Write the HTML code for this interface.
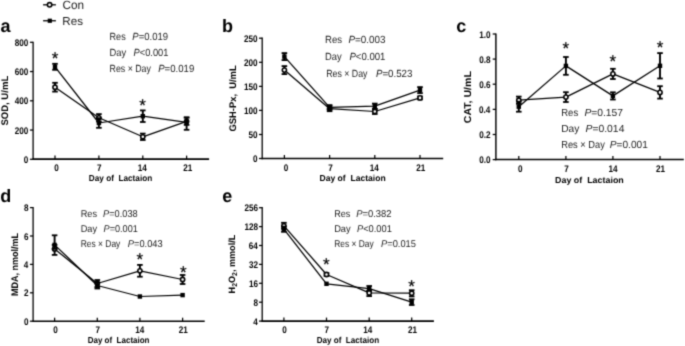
<!DOCTYPE html>
<html><head><meta charset="utf-8"><style>
html,body{margin:0;padding:0;background:#fff;}
svg{display:block;font-family:"Liberation Sans", sans-serif;will-change:transform;text-rendering:geometricPrecision;}
text{stroke:#000;stroke-width:0px;}
.thin{stroke:#000;stroke-width:0px;}
.ast{stroke:#000;stroke-width:0.2px;}
</style></head><body>
<svg width="685" height="346" viewBox="0 0 685 346">
<defs><filter id="bl" x="0" y="0" width="685" height="346" filterUnits="userSpaceOnUse" color-interpolation-filters="sRGB"><feConvolveMatrix order="3" kernelMatrix="1 4 1 4 16 4 1 4 1" divisor="36.0" edgeMode="duplicate"/></filter></defs>
<g filter="url(#bl)">
<rect width="685" height="346" fill="#fff"/>
<line x1="33.10" y1="41.70" x2="33.10" y2="159.88" stroke="#000" stroke-width="1.3"/>
<line x1="32.45" y1="159.10" x2="209.10" y2="159.10" stroke="#000" stroke-width="1.55"/>
<line x1="29.90" y1="42.30" x2="33.10" y2="42.30" stroke="#000" stroke-width="1.25"/>
<text transform="translate(14.72,45.91) scale(0.8500,1)" font-size="9.6" font-weight="bold" fill="#000">800</text>
<line x1="29.90" y1="71.55" x2="33.10" y2="71.55" stroke="#000" stroke-width="1.25"/>
<text transform="translate(14.72,75.16) scale(0.8500,1)" font-size="9.6" font-weight="bold" fill="#000">600</text>
<line x1="29.90" y1="100.80" x2="33.10" y2="100.80" stroke="#000" stroke-width="1.25"/>
<text transform="translate(14.72,104.41) scale(0.8500,1)" font-size="9.6" font-weight="bold" fill="#000">400</text>
<line x1="29.90" y1="130.05" x2="33.10" y2="130.05" stroke="#000" stroke-width="1.25"/>
<text transform="translate(14.72,133.66) scale(0.8500,1)" font-size="9.6" font-weight="bold" fill="#000">200</text>
<line x1="29.90" y1="159.30" x2="33.10" y2="159.30" stroke="#000" stroke-width="1.25"/>
<text transform="translate(23.80,162.91) scale(0.8500,1)" font-size="9.6" font-weight="bold" fill="#000">0</text>
<line x1="55.00" y1="155.60" x2="55.00" y2="159.10" stroke="#000" stroke-width="1.25"/>
<text transform="translate(54.14,171.00) scale(0.8500,1)" font-size="9.6" font-weight="bold" fill="#000">0</text>
<line x1="98.90" y1="155.60" x2="98.90" y2="159.10" stroke="#000" stroke-width="1.25"/>
<text transform="translate(96.93,171.00) scale(0.8500,1)" font-size="9.6" font-weight="bold" fill="#000">7</text>
<line x1="142.80" y1="155.60" x2="142.80" y2="159.10" stroke="#000" stroke-width="1.25"/>
<text transform="translate(137.83,171.00) scale(0.8500,1)" font-size="9.6" font-weight="bold" fill="#000">14</text>
<line x1="186.60" y1="155.60" x2="186.60" y2="159.10" stroke="#000" stroke-width="1.25"/>
<text transform="translate(183.13,171.00) scale(0.8500,1)" font-size="9.6" font-weight="bold" fill="#000">21</text>
<text transform="translate(88.85,180.90) scale(0.9444,1)" font-size="8.7" font-weight="bold" fill="#000">Day of&#160;&#160;Lactaion</text>
<text class="thin" transform="translate(7.90,100.70) rotate(-90)" font-size="9.6" font-weight="bold" text-anchor="middle" fill="#000" textLength="49.80" lengthAdjust="spacingAndGlyphs">SOD, U/mL</text>
<text x="0.60" y="31.50" font-size="18" font-weight="bold" fill="#000">a</text>
<path d="M55.00 87.20 L98.90 117.80 L142.80 136.80 L186.60 121.30" fill="none" stroke="#000" stroke-width="1.25" stroke-linejoin="round"/>
<line x1="55.00" y1="82.80" x2="55.00" y2="87.20" stroke="#000" stroke-width="1.9"/>
<line x1="52.20" y1="82.80" x2="57.80" y2="82.80" stroke="#000" stroke-width="1.8"/>
<line x1="55.00" y1="87.20" x2="55.00" y2="91.60" stroke="#000" stroke-width="1.9"/>
<line x1="52.20" y1="91.60" x2="57.80" y2="91.60" stroke="#000" stroke-width="1.8"/>
<line x1="98.90" y1="114.10" x2="98.90" y2="117.80" stroke="#000" stroke-width="1.9"/>
<line x1="96.10" y1="114.10" x2="101.70" y2="114.10" stroke="#000" stroke-width="1.8"/>
<line x1="98.90" y1="117.80" x2="98.90" y2="121.50" stroke="#000" stroke-width="1.9"/>
<line x1="96.10" y1="121.50" x2="101.70" y2="121.50" stroke="#000" stroke-width="1.8"/>
<line x1="142.80" y1="133.60" x2="142.80" y2="136.80" stroke="#000" stroke-width="1.9"/>
<line x1="140.00" y1="133.60" x2="145.60" y2="133.60" stroke="#000" stroke-width="1.8"/>
<line x1="142.80" y1="136.80" x2="142.80" y2="140.00" stroke="#000" stroke-width="1.9"/>
<line x1="140.00" y1="140.00" x2="145.60" y2="140.00" stroke="#000" stroke-width="1.8"/>
<line x1="186.60" y1="117.70" x2="186.60" y2="121.30" stroke="#000" stroke-width="1.9"/>
<line x1="183.80" y1="117.70" x2="189.40" y2="117.70" stroke="#000" stroke-width="1.8"/>
<line x1="186.60" y1="121.30" x2="186.60" y2="124.90" stroke="#000" stroke-width="1.9"/>
<line x1="183.80" y1="124.90" x2="189.40" y2="124.90" stroke="#000" stroke-width="1.8"/>
<circle cx="55.00" cy="87.20" r="2.1" fill="#fff" stroke="#000" stroke-width="1.6"/>
<circle cx="98.90" cy="117.80" r="2.1" fill="#fff" stroke="#000" stroke-width="1.6"/>
<circle cx="142.80" cy="136.80" r="2.1" fill="#fff" stroke="#000" stroke-width="1.6"/>
<circle cx="186.60" cy="121.30" r="2.1" fill="#fff" stroke="#000" stroke-width="1.6"/>
<path d="M55.00 66.80 L98.90 123.00 L142.80 116.20 L186.60 122.30" fill="none" stroke="#000" stroke-width="1.25" stroke-linejoin="round"/>
<line x1="55.00" y1="63.80" x2="55.00" y2="66.80" stroke="#000" stroke-width="1.9"/>
<line x1="52.20" y1="63.80" x2="57.80" y2="63.80" stroke="#000" stroke-width="1.8"/>
<line x1="55.00" y1="66.80" x2="55.00" y2="69.80" stroke="#000" stroke-width="1.9"/>
<line x1="52.20" y1="69.80" x2="57.80" y2="69.80" stroke="#000" stroke-width="1.8"/>
<line x1="98.90" y1="118.20" x2="98.90" y2="123.00" stroke="#000" stroke-width="1.9"/>
<line x1="96.10" y1="118.20" x2="101.70" y2="118.20" stroke="#000" stroke-width="1.8"/>
<line x1="98.90" y1="123.00" x2="98.90" y2="127.80" stroke="#000" stroke-width="1.9"/>
<line x1="96.10" y1="127.80" x2="101.70" y2="127.80" stroke="#000" stroke-width="1.8"/>
<line x1="142.80" y1="110.40" x2="142.80" y2="116.20" stroke="#000" stroke-width="1.9"/>
<line x1="140.00" y1="110.40" x2="145.60" y2="110.40" stroke="#000" stroke-width="1.8"/>
<line x1="142.80" y1="116.20" x2="142.80" y2="122.00" stroke="#000" stroke-width="1.9"/>
<line x1="140.00" y1="122.00" x2="145.60" y2="122.00" stroke="#000" stroke-width="1.8"/>
<line x1="186.60" y1="117.30" x2="186.60" y2="122.30" stroke="#000" stroke-width="1.9"/>
<line x1="183.80" y1="117.30" x2="189.40" y2="117.30" stroke="#000" stroke-width="1.8"/>
<line x1="186.60" y1="122.30" x2="186.60" y2="129.80" stroke="#000" stroke-width="1.9"/>
<line x1="183.80" y1="129.80" x2="189.40" y2="129.80" stroke="#000" stroke-width="1.8"/>
<rect x="52.80" y="64.60" width="4.4" height="4.4" fill="#000"/>
<rect x="96.70" y="120.80" width="4.4" height="4.4" fill="#000"/>
<rect x="140.60" y="114.00" width="4.4" height="4.4" fill="#000"/>
<rect x="184.40" y="120.10" width="4.4" height="4.4" fill="#000"/>
<text class="ast" x="55.00" y="63.62" font-size="17" text-anchor="middle" fill="#000">*</text>
<text class="ast" x="142.50" y="110.92" font-size="17" text-anchor="middle" fill="#000">*</text>
<text class="thin" transform="translate(109.55,39.70) scale(0.8746,1)" font-size="10.4" font-weight="normal" fill="#1a1a1a">Res</text>
<text class="thin" transform="translate(132.31,39.70) scale(0.9157,1)" font-size="10.4" fill="#1a1a1a"><tspan font-style="italic">P</tspan>=0.019</text>
<text class="thin" transform="translate(109.53,55.80) scale(0.9023,1)" font-size="10.4" font-weight="normal" fill="#1a1a1a">Day</text>
<text class="thin" transform="translate(133.61,55.80) scale(0.8925,1)" font-size="10.4" fill="#1a1a1a"><tspan font-style="italic">P</tspan>&lt;0.001</text>
<text class="thin" transform="translate(109.58,71.90) scale(0.8464,1)" font-size="10.4" font-weight="normal" fill="#1a1a1a">Res &#215; Day</text>
<text class="thin" transform="translate(158.20,71.90) scale(0.9235,1)" font-size="10.4" fill="#1a1a1a"><tspan font-style="italic">P</tspan>=0.019</text>
<line x1="262.20" y1="37.60" x2="262.20" y2="159.28" stroke="#000" stroke-width="1.3"/>
<line x1="261.55" y1="158.50" x2="443.20" y2="158.50" stroke="#000" stroke-width="1.55"/>
<line x1="259.00" y1="38.20" x2="262.20" y2="38.20" stroke="#000" stroke-width="1.25"/>
<text transform="translate(243.92,41.81) scale(0.8500,1)" font-size="9.6" font-weight="bold" fill="#000">250</text>
<line x1="259.00" y1="62.30" x2="262.20" y2="62.30" stroke="#000" stroke-width="1.25"/>
<text transform="translate(243.92,65.91) scale(0.8500,1)" font-size="9.6" font-weight="bold" fill="#000">200</text>
<line x1="259.00" y1="86.40" x2="262.20" y2="86.40" stroke="#000" stroke-width="1.25"/>
<text transform="translate(243.92,90.01) scale(0.8500,1)" font-size="9.6" font-weight="bold" fill="#000">150</text>
<line x1="259.00" y1="110.40" x2="262.20" y2="110.40" stroke="#000" stroke-width="1.25"/>
<text transform="translate(243.92,114.01) scale(0.8500,1)" font-size="9.6" font-weight="bold" fill="#000">100</text>
<line x1="259.00" y1="134.50" x2="262.20" y2="134.50" stroke="#000" stroke-width="1.25"/>
<text transform="translate(248.46,138.11) scale(0.8500,1)" font-size="9.6" font-weight="bold" fill="#000">50</text>
<line x1="259.00" y1="158.50" x2="262.20" y2="158.50" stroke="#000" stroke-width="1.25"/>
<text transform="translate(253.00,162.11) scale(0.8500,1)" font-size="9.6" font-weight="bold" fill="#000">0</text>
<line x1="284.40" y1="155.00" x2="284.40" y2="158.50" stroke="#000" stroke-width="1.25"/>
<text transform="translate(283.84,170.80) scale(0.8500,1)" font-size="9.6" font-weight="bold" fill="#000">0</text>
<line x1="329.60" y1="155.00" x2="329.60" y2="158.50" stroke="#000" stroke-width="1.25"/>
<text transform="translate(328.23,170.80) scale(0.8500,1)" font-size="9.6" font-weight="bold" fill="#000">7</text>
<line x1="374.80" y1="155.00" x2="374.80" y2="158.50" stroke="#000" stroke-width="1.25"/>
<text transform="translate(369.73,170.80) scale(0.8500,1)" font-size="9.6" font-weight="bold" fill="#000">14</text>
<line x1="420.00" y1="155.00" x2="420.00" y2="158.50" stroke="#000" stroke-width="1.25"/>
<text transform="translate(416.33,170.80) scale(0.8500,1)" font-size="9.6" font-weight="bold" fill="#000">21</text>
<text transform="translate(319.53,181.00) scale(0.9853,1)" font-size="8.7" font-weight="bold" fill="#000">Day of&#160;&#160;Lactaion</text>
<text class="thin" transform="translate(235.60,98.40) rotate(-90)" font-size="9.6" font-weight="bold" text-anchor="middle" fill="#000" textLength="66.00" lengthAdjust="spacingAndGlyphs">GSH-Px,&#160;&#160;U/mL</text>
<text x="222.00" y="31.80" font-size="18" font-weight="bold" fill="#000">b</text>
<path d="M284.40 70.10 L329.60 108.70 L374.80 111.50 L420.00 97.90" fill="none" stroke="#000" stroke-width="1.25" stroke-linejoin="round"/>
<line x1="284.40" y1="66.10" x2="284.40" y2="70.10" stroke="#000" stroke-width="1.9"/>
<line x1="281.60" y1="66.10" x2="287.20" y2="66.10" stroke="#000" stroke-width="1.8"/>
<line x1="284.40" y1="70.10" x2="284.40" y2="74.10" stroke="#000" stroke-width="1.9"/>
<line x1="281.60" y1="74.10" x2="287.20" y2="74.10" stroke="#000" stroke-width="1.8"/>
<line x1="329.60" y1="106.20" x2="329.60" y2="108.70" stroke="#000" stroke-width="1.9"/>
<line x1="326.80" y1="106.20" x2="332.40" y2="106.20" stroke="#000" stroke-width="1.8"/>
<line x1="329.60" y1="108.70" x2="329.60" y2="111.20" stroke="#000" stroke-width="1.9"/>
<line x1="326.80" y1="111.20" x2="332.40" y2="111.20" stroke="#000" stroke-width="1.8"/>
<line x1="374.80" y1="109.00" x2="374.80" y2="111.50" stroke="#000" stroke-width="1.9"/>
<line x1="372.00" y1="109.00" x2="377.60" y2="109.00" stroke="#000" stroke-width="1.8"/>
<line x1="374.80" y1="111.50" x2="374.80" y2="114.00" stroke="#000" stroke-width="1.9"/>
<line x1="372.00" y1="114.00" x2="377.60" y2="114.00" stroke="#000" stroke-width="1.8"/>
<line x1="420.00" y1="96.40" x2="420.00" y2="97.90" stroke="#000" stroke-width="1.9"/>
<line x1="417.20" y1="96.40" x2="422.80" y2="96.40" stroke="#000" stroke-width="1.8"/>
<line x1="420.00" y1="97.90" x2="420.00" y2="99.40" stroke="#000" stroke-width="1.9"/>
<line x1="417.20" y1="99.40" x2="422.80" y2="99.40" stroke="#000" stroke-width="1.8"/>
<circle cx="284.40" cy="70.10" r="2.1" fill="#fff" stroke="#000" stroke-width="1.6"/>
<circle cx="329.60" cy="108.70" r="2.1" fill="#fff" stroke="#000" stroke-width="1.6"/>
<circle cx="374.80" cy="111.50" r="2.1" fill="#fff" stroke="#000" stroke-width="1.6"/>
<circle cx="420.00" cy="97.90" r="2.1" fill="#fff" stroke="#000" stroke-width="1.6"/>
<path d="M284.40 56.60 L329.60 107.30 L374.80 106.20 L420.00 90.10" fill="none" stroke="#000" stroke-width="1.25" stroke-linejoin="round"/>
<line x1="284.40" y1="53.10" x2="284.40" y2="56.60" stroke="#000" stroke-width="1.9"/>
<line x1="281.60" y1="53.10" x2="287.20" y2="53.10" stroke="#000" stroke-width="1.8"/>
<line x1="284.40" y1="56.60" x2="284.40" y2="60.10" stroke="#000" stroke-width="1.9"/>
<line x1="281.60" y1="60.10" x2="287.20" y2="60.10" stroke="#000" stroke-width="1.8"/>
<line x1="329.60" y1="105.10" x2="329.60" y2="107.30" stroke="#000" stroke-width="1.9"/>
<line x1="326.80" y1="105.10" x2="332.40" y2="105.10" stroke="#000" stroke-width="1.8"/>
<line x1="329.60" y1="107.30" x2="329.60" y2="109.50" stroke="#000" stroke-width="1.9"/>
<line x1="326.80" y1="109.50" x2="332.40" y2="109.50" stroke="#000" stroke-width="1.8"/>
<line x1="374.80" y1="103.60" x2="374.80" y2="106.20" stroke="#000" stroke-width="1.9"/>
<line x1="372.00" y1="103.60" x2="377.60" y2="103.60" stroke="#000" stroke-width="1.8"/>
<line x1="374.80" y1="106.20" x2="374.80" y2="108.80" stroke="#000" stroke-width="1.9"/>
<line x1="372.00" y1="108.80" x2="377.60" y2="108.80" stroke="#000" stroke-width="1.8"/>
<line x1="420.00" y1="87.10" x2="420.00" y2="90.10" stroke="#000" stroke-width="1.9"/>
<line x1="417.20" y1="87.10" x2="422.80" y2="87.10" stroke="#000" stroke-width="1.8"/>
<line x1="420.00" y1="90.10" x2="420.00" y2="93.10" stroke="#000" stroke-width="1.9"/>
<line x1="417.20" y1="93.10" x2="422.80" y2="93.10" stroke="#000" stroke-width="1.8"/>
<rect x="282.20" y="54.40" width="4.4" height="4.4" fill="#000"/>
<rect x="327.40" y="105.10" width="4.4" height="4.4" fill="#000"/>
<rect x="372.60" y="104.00" width="4.4" height="4.4" fill="#000"/>
<rect x="417.80" y="87.90" width="4.4" height="4.4" fill="#000"/>
<text class="thin" transform="translate(325.01,42.90) scale(0.9209,1)" font-size="10.4" font-weight="normal" fill="#1a1a1a">Res</text>
<text class="thin" transform="translate(348.40,42.90) scale(0.9488,1)" font-size="10.4" fill="#1a1a1a"><tspan font-style="italic">P</tspan>=0.003</text>
<text class="thin" transform="translate(325.03,59.80) scale(0.9023,1)" font-size="10.4" font-weight="normal" fill="#1a1a1a">Day</text>
<text class="thin" transform="translate(349.40,59.80) scale(0.9239,1)" font-size="10.4" fill="#1a1a1a"><tspan font-style="italic">P</tspan>&lt;0.001</text>
<text class="thin" transform="translate(326.18,76.70) scale(0.8464,1)" font-size="10.4" font-weight="normal" fill="#1a1a1a">Res &#215; Day</text>
<text class="thin" transform="translate(375.90,76.70) scale(0.9357,1)" font-size="10.4" fill="#1a1a1a"><tspan font-style="italic">P</tspan>=0.523</text>
<line x1="495.90" y1="33.40" x2="495.90" y2="160.28" stroke="#000" stroke-width="1.45"/>
<line x1="495.17" y1="159.50" x2="683.80" y2="159.50" stroke="#000" stroke-width="1.55"/>
<line x1="492.70" y1="34.00" x2="495.90" y2="34.00" stroke="#000" stroke-width="1.25"/>
<text transform="translate(479.29,37.61) scale(0.8500,1)" font-size="9.6" font-weight="bold" fill="#000">1.0</text>
<line x1="492.70" y1="59.10" x2="495.90" y2="59.10" stroke="#000" stroke-width="1.25"/>
<text transform="translate(479.21,62.71) scale(0.8500,1)" font-size="9.6" font-weight="bold" fill="#000">0.8</text>
<line x1="492.70" y1="84.20" x2="495.90" y2="84.20" stroke="#000" stroke-width="1.25"/>
<text transform="translate(479.25,87.81) scale(0.8500,1)" font-size="9.6" font-weight="bold" fill="#000">0.6</text>
<line x1="492.70" y1="109.40" x2="495.90" y2="109.40" stroke="#000" stroke-width="1.25"/>
<text transform="translate(479.00,113.01) scale(0.8500,1)" font-size="9.6" font-weight="bold" fill="#000">0.4</text>
<line x1="492.70" y1="134.50" x2="495.90" y2="134.50" stroke="#000" stroke-width="1.25"/>
<text transform="translate(479.28,138.11) scale(0.8500,1)" font-size="9.6" font-weight="bold" fill="#000">0.2</text>
<line x1="492.70" y1="159.60" x2="495.90" y2="159.60" stroke="#000" stroke-width="1.25"/>
<text transform="translate(479.29,163.21) scale(0.8500,1)" font-size="9.6" font-weight="bold" fill="#000">0.0</text>
<line x1="518.80" y1="156.00" x2="518.80" y2="159.50" stroke="#000" stroke-width="1.25"/>
<text transform="translate(517.94,172.00) scale(0.8500,1)" font-size="9.6" font-weight="bold" fill="#000">0</text>
<line x1="565.90" y1="156.00" x2="565.90" y2="159.50" stroke="#000" stroke-width="1.25"/>
<text transform="translate(564.23,172.00) scale(0.8500,1)" font-size="9.6" font-weight="bold" fill="#000">7</text>
<line x1="612.90" y1="156.00" x2="612.90" y2="159.50" stroke="#000" stroke-width="1.25"/>
<text transform="translate(608.53,172.00) scale(0.8500,1)" font-size="9.6" font-weight="bold" fill="#000">14</text>
<line x1="660.00" y1="156.00" x2="660.00" y2="159.50" stroke="#000" stroke-width="1.25"/>
<text transform="translate(655.93,172.00) scale(0.8500,1)" font-size="9.6" font-weight="bold" fill="#000">21</text>
<text transform="translate(555.00,182.80) scale(1.0246,1)" font-size="8.7" font-weight="bold" fill="#000">Day of&#160;&#160;Lactaion</text>
<text class="thin" transform="translate(470.60,97.20) rotate(-90)" font-size="10" font-weight="bold" text-anchor="middle" fill="#000" textLength="52.10" lengthAdjust="spacingAndGlyphs">CAT, U/mL</text>
<text x="456.20" y="31.50" font-size="18" font-weight="bold" fill="#000">c</text>
<path d="M518.80 100.20 L565.90 97.10 L612.90 73.90 L660.00 92.40" fill="none" stroke="#000" stroke-width="1.25" stroke-linejoin="round"/>
<line x1="518.80" y1="96.60" x2="518.80" y2="100.20" stroke="#000" stroke-width="1.9"/>
<line x1="516.00" y1="96.60" x2="521.60" y2="96.60" stroke="#000" stroke-width="1.8"/>
<line x1="518.80" y1="100.20" x2="518.80" y2="103.80" stroke="#000" stroke-width="1.9"/>
<line x1="516.00" y1="103.80" x2="521.60" y2="103.80" stroke="#000" stroke-width="1.8"/>
<line x1="565.90" y1="92.20" x2="565.90" y2="97.10" stroke="#000" stroke-width="1.9"/>
<line x1="563.10" y1="92.20" x2="568.70" y2="92.20" stroke="#000" stroke-width="1.8"/>
<line x1="565.90" y1="97.10" x2="565.90" y2="102.00" stroke="#000" stroke-width="1.9"/>
<line x1="563.10" y1="102.00" x2="568.70" y2="102.00" stroke="#000" stroke-width="1.8"/>
<line x1="612.90" y1="68.80" x2="612.90" y2="73.90" stroke="#000" stroke-width="1.9"/>
<line x1="610.10" y1="68.80" x2="615.70" y2="68.80" stroke="#000" stroke-width="1.8"/>
<line x1="612.90" y1="73.90" x2="612.90" y2="79.00" stroke="#000" stroke-width="1.9"/>
<line x1="610.10" y1="79.00" x2="615.70" y2="79.00" stroke="#000" stroke-width="1.8"/>
<line x1="660.00" y1="86.20" x2="660.00" y2="92.40" stroke="#000" stroke-width="1.9"/>
<line x1="657.20" y1="86.20" x2="662.80" y2="86.20" stroke="#000" stroke-width="1.8"/>
<line x1="660.00" y1="92.40" x2="660.00" y2="98.60" stroke="#000" stroke-width="1.9"/>
<line x1="657.20" y1="98.60" x2="662.80" y2="98.60" stroke="#000" stroke-width="1.8"/>
<circle cx="518.80" cy="100.20" r="2.1" fill="#fff" stroke="#000" stroke-width="1.6"/>
<circle cx="565.90" cy="97.10" r="2.1" fill="#fff" stroke="#000" stroke-width="1.6"/>
<circle cx="612.90" cy="73.90" r="2.1" fill="#fff" stroke="#000" stroke-width="1.6"/>
<circle cx="660.00" cy="92.40" r="2.1" fill="#fff" stroke="#000" stroke-width="1.6"/>
<path d="M518.80 106.70 L565.90 65.90 L612.90 95.90 L660.00 65.80" fill="none" stroke="#000" stroke-width="1.25" stroke-linejoin="round"/>
<line x1="518.80" y1="101.70" x2="518.80" y2="106.70" stroke="#000" stroke-width="1.9"/>
<line x1="516.00" y1="101.70" x2="521.60" y2="101.70" stroke="#000" stroke-width="1.8"/>
<line x1="518.80" y1="106.70" x2="518.80" y2="111.70" stroke="#000" stroke-width="1.9"/>
<line x1="516.00" y1="111.70" x2="521.60" y2="111.70" stroke="#000" stroke-width="1.8"/>
<line x1="565.90" y1="57.00" x2="565.90" y2="65.90" stroke="#000" stroke-width="1.9"/>
<line x1="563.10" y1="57.00" x2="568.70" y2="57.00" stroke="#000" stroke-width="1.8"/>
<line x1="565.90" y1="65.90" x2="565.90" y2="74.80" stroke="#000" stroke-width="1.9"/>
<line x1="563.10" y1="74.80" x2="568.70" y2="74.80" stroke="#000" stroke-width="1.8"/>
<line x1="612.90" y1="92.30" x2="612.90" y2="95.90" stroke="#000" stroke-width="1.9"/>
<line x1="610.10" y1="92.30" x2="615.70" y2="92.30" stroke="#000" stroke-width="1.8"/>
<line x1="612.90" y1="95.90" x2="612.90" y2="99.50" stroke="#000" stroke-width="1.9"/>
<line x1="610.10" y1="99.50" x2="615.70" y2="99.50" stroke="#000" stroke-width="1.8"/>
<line x1="660.00" y1="53.10" x2="660.00" y2="65.80" stroke="#000" stroke-width="1.9"/>
<line x1="657.20" y1="53.10" x2="662.80" y2="53.10" stroke="#000" stroke-width="1.8"/>
<line x1="660.00" y1="65.80" x2="660.00" y2="78.50" stroke="#000" stroke-width="1.9"/>
<line x1="657.20" y1="78.50" x2="662.80" y2="78.50" stroke="#000" stroke-width="1.8"/>
<rect x="516.60" y="104.50" width="4.4" height="4.4" fill="#000"/>
<rect x="563.70" y="63.70" width="4.4" height="4.4" fill="#000"/>
<rect x="610.70" y="93.70" width="4.4" height="4.4" fill="#000"/>
<rect x="657.80" y="63.60" width="4.4" height="4.4" fill="#000"/>
<text class="ast" x="565.90" y="54.02" font-size="17" text-anchor="middle" fill="#000">*</text>
<text class="ast" x="612.90" y="67.12" font-size="17" text-anchor="middle" fill="#000">*</text>
<text class="ast" x="660.00" y="52.62" font-size="17" text-anchor="middle" fill="#000">*</text>
<text class="thin" transform="translate(561.22,116.10) scale(0.9240,1)" font-size="10.3" font-weight="normal" fill="#1a1a1a">Res</text>
<text class="thin" transform="translate(584.38,116.10) scale(0.9967,1)" font-size="10.3" fill="#1a1a1a"><tspan font-style="italic">P</tspan>=0.157</text>
<text class="thin" transform="translate(561.16,132.10) scale(0.9913,1)" font-size="10.3" font-weight="normal" fill="#1a1a1a">Day</text>
<text class="thin" transform="translate(585.48,132.10) scale(1.0068,1)" font-size="10.3" fill="#1a1a1a"><tspan font-style="italic">P</tspan>=0.014</text>
<text class="thin" transform="translate(561.24,147.50) scale(0.9009,1)" font-size="10.3" font-weight="normal" fill="#1a1a1a">Res &#215; Day</text>
<text class="thin" transform="translate(609.79,147.50) scale(0.9831,1)" font-size="10.3" fill="#1a1a1a"><tspan font-style="italic">P</tspan>=0.001</text>
<line x1="33.10" y1="207.00" x2="33.10" y2="321.97" stroke="#000" stroke-width="1.3"/>
<line x1="32.45" y1="321.20" x2="204.70" y2="321.20" stroke="#000" stroke-width="1.55"/>
<line x1="29.90" y1="207.60" x2="33.10" y2="207.60" stroke="#000" stroke-width="1.25"/>
<text transform="translate(24.01,211.21) scale(0.8500,1)" font-size="9.6" font-weight="bold" fill="#000">8</text>
<line x1="29.90" y1="236.00" x2="33.10" y2="236.00" stroke="#000" stroke-width="1.25"/>
<text transform="translate(24.06,239.61) scale(0.8500,1)" font-size="9.6" font-weight="bold" fill="#000">6</text>
<line x1="29.90" y1="264.40" x2="33.10" y2="264.40" stroke="#000" stroke-width="1.25"/>
<text transform="translate(23.81,268.01) scale(0.8500,1)" font-size="9.6" font-weight="bold" fill="#000">4</text>
<line x1="29.90" y1="292.80" x2="33.10" y2="292.80" stroke="#000" stroke-width="1.25"/>
<text transform="translate(24.09,296.41) scale(0.8500,1)" font-size="9.6" font-weight="bold" fill="#000">2</text>
<line x1="29.90" y1="321.20" x2="33.10" y2="321.20" stroke="#000" stroke-width="1.25"/>
<text transform="translate(24.10,324.81) scale(0.8500,1)" font-size="9.6" font-weight="bold" fill="#000">0</text>
<line x1="54.60" y1="317.70" x2="54.60" y2="321.20" stroke="#000" stroke-width="1.25"/>
<text transform="translate(53.24,333.00) scale(0.8500,1)" font-size="9.6" font-weight="bold" fill="#000">0</text>
<line x1="97.30" y1="317.70" x2="97.30" y2="321.20" stroke="#000" stroke-width="1.25"/>
<text transform="translate(95.53,333.00) scale(0.8500,1)" font-size="9.6" font-weight="bold" fill="#000">7</text>
<line x1="139.90" y1="317.70" x2="139.90" y2="321.20" stroke="#000" stroke-width="1.25"/>
<text transform="translate(135.13,333.00) scale(0.8500,1)" font-size="9.6" font-weight="bold" fill="#000">14</text>
<line x1="182.60" y1="317.70" x2="182.60" y2="321.20" stroke="#000" stroke-width="1.25"/>
<text transform="translate(178.63,333.00) scale(0.8500,1)" font-size="9.6" font-weight="bold" fill="#000">21</text>
<text transform="translate(87.66,342.80) scale(0.9217,1)" font-size="8.7" font-weight="bold" fill="#000">Day of&#160;&#160;Lactaion</text>
<text class="thin" transform="translate(17.50,264.40) rotate(-90)" font-size="9.6" font-weight="bold" text-anchor="middle" fill="#000" textLength="63.00" lengthAdjust="spacingAndGlyphs">MDA, nmol/mL</text>
<text x="0.30" y="202.30" font-size="18" font-weight="bold" fill="#000">d</text>
<path d="M54.60 248.90 L97.30 283.50 L139.90 270.80 L182.60 279.50" fill="none" stroke="#000" stroke-width="1.25" stroke-linejoin="round"/>
<line x1="54.60" y1="244.90" x2="54.60" y2="248.90" stroke="#000" stroke-width="1.9"/>
<line x1="51.80" y1="244.90" x2="57.40" y2="244.90" stroke="#000" stroke-width="1.8"/>
<line x1="54.60" y1="248.90" x2="54.60" y2="254.90" stroke="#000" stroke-width="1.9"/>
<line x1="51.80" y1="254.90" x2="57.40" y2="254.90" stroke="#000" stroke-width="1.8"/>
<line x1="97.30" y1="280.00" x2="97.30" y2="283.50" stroke="#000" stroke-width="1.9"/>
<line x1="94.50" y1="280.00" x2="100.10" y2="280.00" stroke="#000" stroke-width="1.8"/>
<line x1="97.30" y1="283.50" x2="97.30" y2="287.00" stroke="#000" stroke-width="1.9"/>
<line x1="94.50" y1="287.00" x2="100.10" y2="287.00" stroke="#000" stroke-width="1.8"/>
<line x1="139.90" y1="264.90" x2="139.90" y2="270.80" stroke="#000" stroke-width="1.9"/>
<line x1="137.10" y1="264.90" x2="142.70" y2="264.90" stroke="#000" stroke-width="1.8"/>
<line x1="139.90" y1="270.80" x2="139.90" y2="276.70" stroke="#000" stroke-width="1.9"/>
<line x1="137.10" y1="276.70" x2="142.70" y2="276.70" stroke="#000" stroke-width="1.8"/>
<line x1="182.60" y1="275.00" x2="182.60" y2="279.50" stroke="#000" stroke-width="1.9"/>
<line x1="179.80" y1="275.00" x2="185.40" y2="275.00" stroke="#000" stroke-width="1.8"/>
<line x1="182.60" y1="279.50" x2="182.60" y2="284.00" stroke="#000" stroke-width="1.9"/>
<line x1="179.80" y1="284.00" x2="185.40" y2="284.00" stroke="#000" stroke-width="1.8"/>
<circle cx="54.60" cy="248.90" r="2.1" fill="#fff" stroke="#000" stroke-width="1.6"/>
<circle cx="97.30" cy="283.50" r="2.1" fill="#fff" stroke="#000" stroke-width="1.6"/>
<circle cx="139.90" cy="270.80" r="2.1" fill="#fff" stroke="#000" stroke-width="1.6"/>
<circle cx="182.60" cy="279.50" r="2.1" fill="#fff" stroke="#000" stroke-width="1.6"/>
<path d="M54.60 244.90 L97.30 285.50 L139.90 296.50 L182.60 295.10" fill="none" stroke="#000" stroke-width="1.25" stroke-linejoin="round"/>
<line x1="54.60" y1="235.30" x2="54.60" y2="244.90" stroke="#000" stroke-width="1.9"/>
<line x1="51.80" y1="235.30" x2="57.40" y2="235.30" stroke="#000" stroke-width="1.8"/>
<line x1="54.60" y1="244.90" x2="54.60" y2="248.90" stroke="#000" stroke-width="1.9"/>
<line x1="51.80" y1="248.90" x2="57.40" y2="248.90" stroke="#000" stroke-width="1.8"/>
<line x1="97.30" y1="282.50" x2="97.30" y2="285.50" stroke="#000" stroke-width="1.9"/>
<line x1="94.50" y1="282.50" x2="100.10" y2="282.50" stroke="#000" stroke-width="1.8"/>
<line x1="97.30" y1="285.50" x2="97.30" y2="288.50" stroke="#000" stroke-width="1.9"/>
<line x1="94.50" y1="288.50" x2="100.10" y2="288.50" stroke="#000" stroke-width="1.8"/>
<rect x="52.40" y="242.70" width="4.4" height="4.4" fill="#000"/>
<rect x="95.10" y="283.30" width="4.4" height="4.4" fill="#000"/>
<rect x="137.70" y="294.30" width="4.4" height="4.4" fill="#000"/>
<rect x="180.40" y="292.90" width="4.4" height="4.4" fill="#000"/>
<text class="ast" x="139.90" y="265.42" font-size="17" text-anchor="middle" fill="#000">*</text>
<text class="ast" x="183.30" y="277.92" font-size="17" text-anchor="middle" fill="#000">*</text>
<text class="thin" transform="translate(80.64,216.90) scale(0.9309,1)" font-size="9.9" font-weight="normal" fill="#1a1a1a">Res</text>
<text class="thin" transform="translate(103.01,216.90) scale(0.9362,1)" font-size="9.9" fill="#1a1a1a"><tspan font-style="italic">P</tspan>=0.038</text>
<text class="thin" transform="translate(80.64,232.00) scale(0.9300,1)" font-size="9.9" font-weight="normal" fill="#1a1a1a">Day</text>
<text class="thin" transform="translate(103.62,232.00) scale(0.9211,1)" font-size="9.9" fill="#1a1a1a"><tspan font-style="italic">P</tspan>=0.001</text>
<text class="thin" transform="translate(80.71,247.10) scale(0.8541,1)" font-size="9.9" font-weight="normal" fill="#1a1a1a">Res &#215; Day</text>
<text class="thin" transform="translate(127.81,247.10) scale(0.9391,1)" font-size="9.9" fill="#1a1a1a"><tspan font-style="italic">P</tspan>=0.043</text>
<line x1="262.20" y1="207.10" x2="262.20" y2="321.88" stroke="#000" stroke-width="1.3"/>
<line x1="261.55" y1="321.10" x2="433.90" y2="321.10" stroke="#000" stroke-width="1.55"/>
<line x1="259.00" y1="207.70" x2="262.20" y2="207.70" stroke="#000" stroke-width="1.25"/>
<text transform="translate(244.48,211.31) scale(0.8500,1)" font-size="9.6" font-weight="bold" fill="#000">256</text>
<line x1="259.00" y1="226.60" x2="262.20" y2="226.60" stroke="#000" stroke-width="1.25"/>
<text transform="translate(244.44,230.21) scale(0.8500,1)" font-size="9.6" font-weight="bold" fill="#000">128</text>
<line x1="259.00" y1="245.50" x2="262.20" y2="245.50" stroke="#000" stroke-width="1.25"/>
<text transform="translate(248.77,249.11) scale(0.8500,1)" font-size="9.6" font-weight="bold" fill="#000">64</text>
<line x1="259.00" y1="264.40" x2="262.20" y2="264.40" stroke="#000" stroke-width="1.25"/>
<text transform="translate(249.05,268.01) scale(0.8500,1)" font-size="9.6" font-weight="bold" fill="#000">32</text>
<line x1="259.00" y1="283.30" x2="262.20" y2="283.30" stroke="#000" stroke-width="1.25"/>
<text transform="translate(249.02,286.91) scale(0.8500,1)" font-size="9.6" font-weight="bold" fill="#000">16</text>
<line x1="259.00" y1="302.20" x2="262.20" y2="302.20" stroke="#000" stroke-width="1.25"/>
<text transform="translate(253.51,305.81) scale(0.8500,1)" font-size="9.6" font-weight="bold" fill="#000">8</text>
<line x1="259.00" y1="321.10" x2="262.20" y2="321.10" stroke="#000" stroke-width="1.25"/>
<text transform="translate(253.31,324.71) scale(0.8500,1)" font-size="9.6" font-weight="bold" fill="#000">4</text>
<line x1="283.90" y1="317.60" x2="283.90" y2="321.10" stroke="#000" stroke-width="1.25"/>
<text transform="translate(282.14,332.70) scale(0.8500,1)" font-size="9.6" font-weight="bold" fill="#000">0</text>
<line x1="326.50" y1="317.60" x2="326.50" y2="321.10" stroke="#000" stroke-width="1.25"/>
<text transform="translate(324.53,332.70) scale(0.8500,1)" font-size="9.6" font-weight="bold" fill="#000">7</text>
<line x1="369.20" y1="317.60" x2="369.20" y2="321.10" stroke="#000" stroke-width="1.25"/>
<text transform="translate(363.23,332.70) scale(0.8500,1)" font-size="9.6" font-weight="bold" fill="#000">14</text>
<line x1="411.70" y1="317.60" x2="411.70" y2="321.10" stroke="#000" stroke-width="1.25"/>
<text transform="translate(408.03,332.70) scale(0.8500,1)" font-size="9.6" font-weight="bold" fill="#000">21</text>
<text transform="translate(316.66,342.50) scale(0.9308,1)" font-size="8.7" font-weight="bold" fill="#000">Day of&#160;&#160;Lactaion</text>
<text class="thin" transform="translate(234.90,264.10) rotate(-90)" font-size="9.2" font-weight="bold" text-anchor="middle" fill="#000" textLength="58.60" lengthAdjust="spacingAndGlyphs">H<tspan font-size="7" dy="2.2">2</tspan><tspan dy="-2.2">O</tspan><tspan font-size="7" dy="2.2">2</tspan><tspan dy="-2.2">, mmol/L</tspan></text>
<text x="222.30" y="201.60" font-size="18" font-weight="bold" fill="#000">e</text>
<path d="M283.90 225.80 L326.50 274.50 L369.20 292.90 L411.70 293.20" fill="none" stroke="#000" stroke-width="1.25" stroke-linejoin="round"/>
<line x1="283.90" y1="222.80" x2="283.90" y2="225.80" stroke="#000" stroke-width="1.9"/>
<line x1="281.10" y1="222.80" x2="286.70" y2="222.80" stroke="#000" stroke-width="1.8"/>
<line x1="283.90" y1="225.80" x2="283.90" y2="228.80" stroke="#000" stroke-width="1.9"/>
<line x1="281.10" y1="228.80" x2="286.70" y2="228.80" stroke="#000" stroke-width="1.8"/>
<line x1="326.50" y1="273.00" x2="326.50" y2="274.50" stroke="#000" stroke-width="1.9"/>
<line x1="323.70" y1="273.00" x2="329.30" y2="273.00" stroke="#000" stroke-width="1.8"/>
<line x1="326.50" y1="274.50" x2="326.50" y2="276.00" stroke="#000" stroke-width="1.9"/>
<line x1="323.70" y1="276.00" x2="329.30" y2="276.00" stroke="#000" stroke-width="1.8"/>
<line x1="369.20" y1="290.90" x2="369.20" y2="292.90" stroke="#000" stroke-width="1.9"/>
<line x1="366.40" y1="290.90" x2="372.00" y2="290.90" stroke="#000" stroke-width="1.8"/>
<line x1="369.20" y1="292.90" x2="369.20" y2="296.10" stroke="#000" stroke-width="1.9"/>
<line x1="366.40" y1="296.10" x2="372.00" y2="296.10" stroke="#000" stroke-width="1.8"/>
<line x1="411.70" y1="290.20" x2="411.70" y2="293.20" stroke="#000" stroke-width="1.9"/>
<line x1="408.90" y1="290.20" x2="414.50" y2="290.20" stroke="#000" stroke-width="1.8"/>
<line x1="411.70" y1="293.20" x2="411.70" y2="296.40" stroke="#000" stroke-width="1.9"/>
<line x1="408.90" y1="296.40" x2="414.50" y2="296.40" stroke="#000" stroke-width="1.8"/>
<circle cx="283.90" cy="225.80" r="2.1" fill="#fff" stroke="#000" stroke-width="1.6"/>
<circle cx="326.50" cy="274.50" r="2.1" fill="#fff" stroke="#000" stroke-width="1.6"/>
<circle cx="369.20" cy="292.90" r="2.1" fill="#fff" stroke="#000" stroke-width="1.6"/>
<circle cx="411.70" cy="293.20" r="2.1" fill="#fff" stroke="#000" stroke-width="1.6"/>
<path d="M283.90 229.20 L326.50 283.80 L369.20 288.60 L411.70 302.10" fill="none" stroke="#000" stroke-width="1.25" stroke-linejoin="round"/>
<line x1="283.90" y1="226.60" x2="283.90" y2="229.20" stroke="#000" stroke-width="1.9"/>
<line x1="281.10" y1="226.60" x2="286.70" y2="226.60" stroke="#000" stroke-width="1.8"/>
<line x1="283.90" y1="229.20" x2="283.90" y2="231.80" stroke="#000" stroke-width="1.9"/>
<line x1="281.10" y1="231.80" x2="286.70" y2="231.80" stroke="#000" stroke-width="1.8"/>
<line x1="369.20" y1="286.00" x2="369.20" y2="288.60" stroke="#000" stroke-width="1.9"/>
<line x1="366.40" y1="286.00" x2="372.00" y2="286.00" stroke="#000" stroke-width="1.8"/>
<line x1="369.20" y1="288.60" x2="369.20" y2="290.60" stroke="#000" stroke-width="1.9"/>
<line x1="366.40" y1="290.60" x2="372.00" y2="290.60" stroke="#000" stroke-width="1.8"/>
<line x1="411.70" y1="299.30" x2="411.70" y2="302.10" stroke="#000" stroke-width="1.9"/>
<line x1="408.90" y1="299.30" x2="414.50" y2="299.30" stroke="#000" stroke-width="1.8"/>
<line x1="411.70" y1="302.10" x2="411.70" y2="305.00" stroke="#000" stroke-width="1.9"/>
<line x1="408.90" y1="305.00" x2="414.50" y2="305.00" stroke="#000" stroke-width="1.8"/>
<rect x="281.70" y="227.00" width="4.4" height="4.4" fill="#000"/>
<rect x="324.30" y="281.60" width="4.4" height="4.4" fill="#000"/>
<rect x="367.00" y="286.40" width="4.4" height="4.4" fill="#000"/>
<rect x="409.50" y="299.90" width="4.4" height="4.4" fill="#000"/>
<text class="ast" x="326.20" y="270.12" font-size="17" text-anchor="middle" fill="#000">*</text>
<text class="ast" x="411.50" y="291.62" font-size="17" text-anchor="middle" fill="#000">*</text>
<text class="thin" transform="translate(334.16,216.90) scale(0.9127,1)" font-size="9.9" font-weight="normal" fill="#1a1a1a">Res</text>
<text class="thin" transform="translate(356.21,216.90) scale(0.9544,1)" font-size="9.9" fill="#1a1a1a"><tspan font-style="italic">P</tspan>=0.382</text>
<text class="thin" transform="translate(334.14,232.00) scale(0.9419,1)" font-size="9.9" font-weight="normal" fill="#1a1a1a">Day</text>
<text class="thin" transform="translate(356.91,232.00) scale(0.9431,1)" font-size="9.9" fill="#1a1a1a"><tspan font-style="italic">P</tspan>&lt;0.001</text>
<text class="thin" transform="translate(334.21,247.10) scale(0.8497,1)" font-size="9.9" font-weight="normal" fill="#1a1a1a">Res &#215; Day</text>
<text class="thin" transform="translate(381.01,247.10) scale(0.9413,1)" font-size="9.9" fill="#1a1a1a"><tspan font-style="italic">P</tspan>=0.015</text>
<line x1="43.10" y1="4.80" x2="55.90" y2="4.80" stroke="#000" stroke-width="1.3"/>
<circle cx="49.6" cy="4.8" r="2.2" fill="#fff" stroke="#000" stroke-width="1.6"/>
<line x1="43.10" y1="20.75" x2="55.90" y2="20.75" stroke="#000" stroke-width="1.3"/>
<rect x="47.7" y="18.65" width="4.2" height="4.2" fill="#000"/>
<text class="thin" transform="translate(62.40,9.30) scale(0.9794,1)" font-size="12.0" font-weight="normal" fill="#1a1a1a">Con</text>
<text class="thin" transform="translate(62.35,24.90) scale(1.0022,1)" font-size="11.6" font-weight="normal" fill="#1a1a1a">Res</text>
</g>
</svg>
</body></html>
